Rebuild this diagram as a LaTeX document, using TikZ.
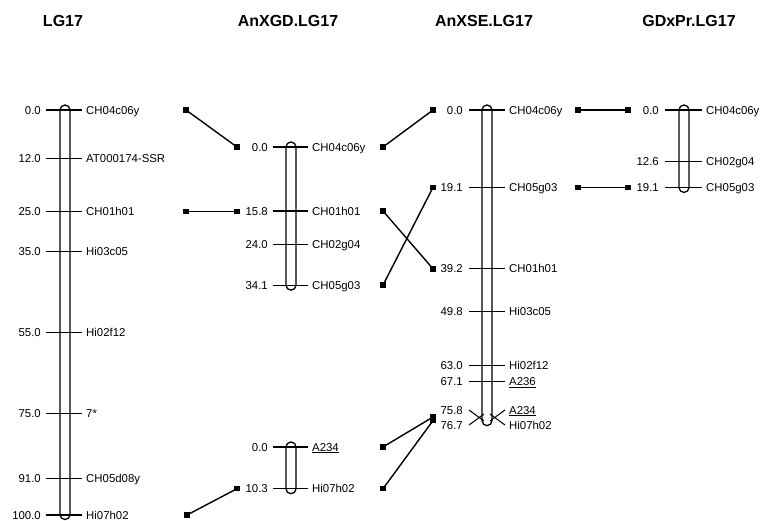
\documentclass[tikz,border=0pt]{standalone}
\usepackage{fontspec}
\setmainfont{Liberation Sans}
\begin{document}
\begin{tikzpicture}[x=1pt,y=-1pt,
  bar/.style={draw=black,line width=1.3pt,fill=white,rounded corners=4.9pt},
  tick/.style={line width=1.05pt},
  conn/.style={line width=1.4pt},
  sq/.style={fill=black,minimum size=5.4pt,inner sep=0pt,outer sep=0pt},
  num/.style={font=\fontsize{11.4}{12}\selectfont,anchor=east,inner sep=0pt,text height=8.1pt,text depth=0pt},
  lab/.style={font=\fontsize{11.4}{12}\selectfont,anchor=west,inner sep=0pt,text height=8.1pt,text depth=0pt},
  ttl/.style={font=\fontsize{16}{18}\selectfont\bfseries,inner sep=0pt,text height=11.5pt,text depth=0pt}]
\useasboundingbox (0,0) rectangle (763,520);

% titles
\node[ttl] (t1) at (63,21) {LG17};
\node[ttl] (t2) at (288,21) {AnXGD.LG17};
\node[ttl] (t3) at (484,21) {AnXSE.LG17};
\node[ttl] (t4) at (689,21) {GDxPr.LG17};

% ---------- LG17 ----------
\draw[bar] (60,105) rectangle (70,519.5);
\foreach \v/\t/\n in {0.0/CH04c06y/a,12.0/AT000174-SSR/b,25.0/CH01h01/c,35.0/Hi03c05/d,55.0/Hi02f12/e,75.0/7*/f,91.0/CH05d08y/g,100.0/Hi07h02/h}{
  \pgfmathsetmacro\y{110+4.05*\v}
  \draw[tick] (46,\y) -- (82,\y);
  \node[num] (LGv\n) at (41,\y) {\v};
  \node[lab] (LGm\n) at (86,\y) {\t};
}

% ---------- AnXGD.LG17 (top) ----------
\draw[bar] (286,142) rectangle (296,290.1);
\foreach \v/\t/\n in {0.0/CH04c06y/a,15.8/CH01h01/b,24.0/CH02g04/c,34.1/CH05g03/d}{
  \pgfmathsetmacro\y{147+4.05*\v}
  \draw[tick] (273,\y) -- (308,\y);
  \node[num] (GDv\n) at (268,\y) {\v};
  \node[lab] (GDm\n) at (312,\y) {\t};
}
% ---------- AnXGD.LG17 (bottom) ----------
\draw[bar] (286,442) rectangle (296,493.7);
\foreach \v/\t/\n in {0.0/\underline{A234}/e,10.3/Hi07h02/f}{
  \pgfmathsetmacro\y{447+4.05*\v}
  \draw[tick] (273,\y) -- (308,\y);
  \node[num] (GDv\n) at (268,\y) {\v};
  \node[lab] (GDm\n) at (312,\y) {\t};
}

% ---------- AnXSE.LG17 ----------
\draw[bar] (482,105) rectangle (492,425.6);
\foreach \v/\t/\n in {0.0/CH04c06y/a,19.1/CH05g03/b,39.2/CH01h01/c,49.8/Hi03c05/d,63.0/Hi02f12/e,67.1/\underline{A236}/f}{
  \pgfmathsetmacro\y{110+4.05*\v}
  \draw[tick] (469,\y) -- (505,\y);
  \node[num] (SEv\n) at (463,\y) {\v};
  \node[lab] (SEm\n) at (509,\y) {\t};
}
\draw[tick] (469,410) -- (484,421);
\draw[tick] (469,425) -- (484,414);
\draw[tick] (490,421) -- (505,410);
\draw[tick] (490,414) -- (505,425);
\node[num] (SEvg) at (463,410) {75.8};
\node[lab] (SEmg) at (509,410) {\underline{A234}};
\node[num] (SEvh) at (463,425) {76.7};
\node[lab] (SEmh) at (509,425) {Hi07h02};

% ---------- GDxPr.LG17 ----------
\draw[bar] (679,105) rectangle (689,192.4);
\foreach \v/\t/\n in {0.0/CH04c06y/a,12.6/CH02g04/b,19.1/CH05g03/c}{
  \pgfmathsetmacro\y{110+4.05*\v}
  \draw[tick] (665,\y) -- (702,\y);
  \node[num] (PRv\n) at (659,\y) {\v};
  \node[lab] (PRm\n) at (706,\y) {\t};
}

% ---------- connector end squares ----------
\node[sq] (R1) at (186,110) {};
\node[sq] (R2) at (186,211.25) {};
\node[sq] (R3) at (187,515) {};
\node[sq] (GL1) at (237,147) {};
\node[sq] (GL2) at (237,211.25) {};
\node[sq] (GL3) at (237,488.7) {};
\node[sq] (GR1) at (383,147) {};
\node[sq] (GR2) at (383,211) {};
\node[sq] (GR3) at (383,285.1) {};
\node[sq] (GR4) at (383,447) {};
\node[sq] (GR5) at (383,488.7) {};
\node[sq] (SL1) at (433,110) {};
\node[sq] (SL2) at (433,187.4) {};
\node[sq] (SL3) at (433,268.8) {};
\node[sq] (SL4) at (433,417) {};
\node[sq] (SL5) at (433,420.6) {};
\node[sq] (SR1) at (578,110) {};
\node[sq] (SR2) at (578,187.4) {};
\node[sq] (PL1) at (628,110) {};
\node[sq] (PL2) at (628,187.4) {};

% ---------- connectors ----------
\draw[conn] (R1.center) -- (GL1.center);
\draw[conn] (R2.center) -- (GL2.center);
\draw[conn] (R3.center) -- (GL3.center);
\draw[conn] (GR1.center) -- (SL1.center);
\draw[conn] (GR2.center) -- (SL3.center);
\draw[conn] (GR3.center) -- (SL2.center);
\draw[conn] (GR4.center) -- (SL4.center);
\draw[conn] (GR5.center) -- (SL5.center);
\draw[conn] (SR1.center) -- (PL1.center);
\draw[conn] (SR2.center) -- (PL2.center);
\end{tikzpicture}
\end{document}
